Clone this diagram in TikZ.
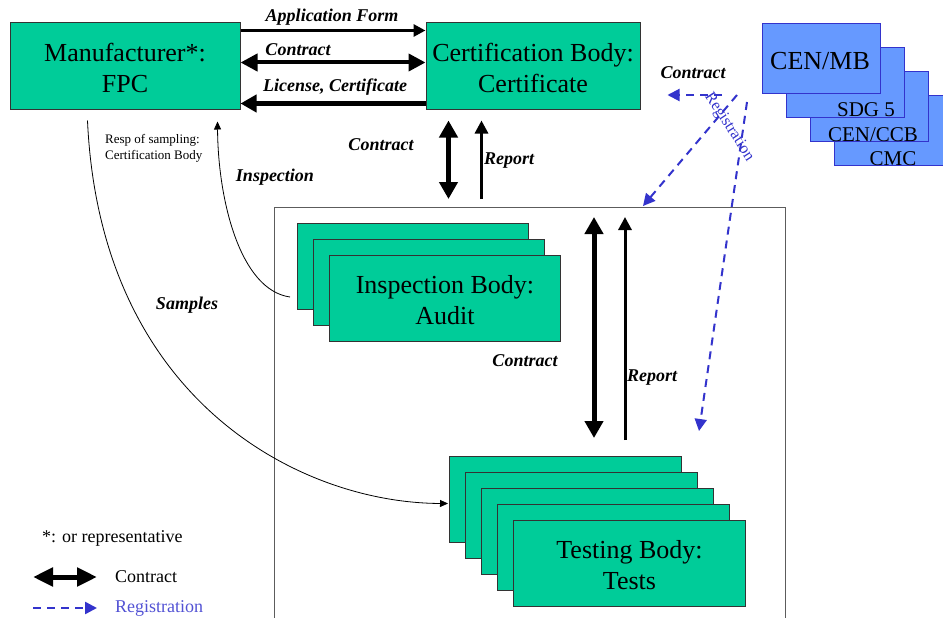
\documentclass[tikz,border=0pt]{standalone}
\usepackage{fontspec}
\setmainfont{Liberation Serif}
\usetikzlibrary{arrows.meta,calc}
\definecolor{tealfill}{HTML}{00CC99}
\definecolor{bluefill}{HTML}{6699FF}
\definecolor{blueline}{HTML}{3333CC}
\definecolor{boxline}{HTML}{333333}
\newcommand\toplinestrut{\rule{0pt}{22pt}}
\begin{document}
\begin{tikzpicture}[x=1pt,y=-1pt,
  gbox/.style={draw=boxline, line width=1pt, fill=tealfill, inner sep=0pt, align=center,
    font=\fontsize{26}{31}\selectfont},
  stackbox/.style={gbox, minimum width=231, minimum height=86, anchor=north west},
  bbox/.style={draw=blueline, line width=1pt, fill=bluefill, minimum width=118,
    minimum height=70, inner sep=0pt, anchor=north west},
  btext/.style={inner sep=0pt, anchor=base, font=\fontsize{21}{24}\selectfont},
  lbl/.style={inner sep=0pt, font=\fontsize{18}{20}\selectfont\bfseries\itshape},
  thickdbl/.style={line width=5pt, {Triangle[length=17pt,width=18pt]}-{Triangle[length=17pt,width=18pt]}},
  thinar/.style={line width=3pt, -{Triangle[length=13pt,width=13pt]}},
  regar/.style={draw=blueline, line width=2pt, dash pattern=on 8pt off 6pt,
    -{Triangle[length=12pt,width=12pt]}},
  curvear/.style={line width=0.8pt, -{Triangle[length=8pt,width=7pt]}},
  legtext/.style={inner sep=0pt, anchor=west, font=\fontsize{18}{20}\selectfont}
]
\useasboundingbox (0,0) rectangle (943,618);

% frame
\node[draw=boxline!80, line width=1pt, minimum width=511, minimum height=430,
  anchor=north west, inner sep=0pt] (frame) at (274,207) {};

% main boxes
\node[gbox, minimum width=230, minimum height=86] (mfr) at (125,66) {\toplinestrut Manufacturer*:\\FPC};
\node[gbox, minimum width=214, minimum height=86] (cert) at (533,66) {\toplinestrut Certification Body:\\Certificate};

% blue stack
\node[bbox] (cmc) at (834,95) {};
\node[bbox] (ccb) at (810,71) {};
\node[bbox] (sdg) at (786,47) {};
\node[bbox] (mb) at (762,23) {};
\node[btext, font=\fontsize{26}{30}\selectfont] (mbt) at (820,70) {CEN/MB};
\node[btext] (sdgt) at (866,117) {SDG 5};
\node[btext] (ccbt) at (873,141) {CEN/CCB};
\node[btext] (cmct) at (893,165) {CMC};

% inspection stack
\node[stackbox] (ib1) at (297,223) {};
\node[stackbox] (ib2) at (313,239) {};
\node[stackbox] (ib3) at (329,255) {\toplinestrut Inspection Body:\\Audit};

% testing stack
\node[stackbox, minimum width=232] (tb1) at (449,456) {};
\node[stackbox, minimum width=232] (tb2) at (465,472) {};
\node[stackbox, minimum width=232] (tb3) at (481,488) {};
\node[stackbox, minimum width=232] (tb4) at (497,504) {};
\node[stackbox, minimum width=232] (tb5) at (513,520) {\toplinestrut Testing Body:\\Tests};

% arrows between manufacturer and certification body
\draw[line width=3pt, -{Triangle[length=12pt,width=12pt]}]
  ($(mfr.north east)+(0,8)$) -- ($(cert.north west)+(0,8)$);
\draw[line width=4pt, {Triangle[length=17pt,width=17pt]}-{Triangle[length=17pt,width=17pt]}]
  ($(mfr.north east)+(0,40)$) -- ($(cert.north west)+(0,40)$);
\draw[line width=5pt, -{Triangle[length=16pt,width=17pt]}]
  ($(cert.south west)+(0,-6)$) -- ($(mfr.south east)+(0,-6)$);
\node[lbl] (lapp) at (332,17) {Application Form};
\node[lbl] (lcon1) at (298,50) {Contract};
\node[lbl] (llic) at (335,87) {License, Certificate};

% certification body <-> frame
\draw[thickdbl] ($(cert.south west)+(23,11)$) -- ($(cert.south west |- frame.north)+(23,-8)$);
\draw[thinar] ($(cert.south west |- frame.north)+(56,-8)$) -- ($(cert.south west)+(56,11)$);
\node[lbl] (lcon2) at (381,145) {Contract};
\node[lbl] (lrep1) at (509,161) {Report};

% inside frame
\draw[thickdbl] ($(frame.north west)+(320,10)$) -- ($(tb1.north west)+(145,-18)$);
\draw[thinar] ($(tb1.north west)+(176,-16)$) -- ($(frame.north west)+(351,10)$);
\node[lbl] (lcon3) at (525,361) {Contract};
\node[lbl] (lrep2) at (652,378) {Report};

% registration arrows
\coordinate (r0) at (722,95);
\coordinate (r1) at (737,95);
\coordinate (r2) at (747,102);
\draw[regar] (r0) -- ($(cert.east)+(27,29)$);
\draw[regar] (r1) -- ($(frame.north west)+(369,-1)$);
\draw[regar] (r2) -- ($(frame.north east)+(-87,224)$);
\node[lbl] (lcon4) at (693,73) {Contract};
\node[inner sep=0pt, text=blueline, rotate=-57, font=\fontsize{16}{18}\selectfont] (lreg) at (729,127) {Registration};

% curves
\draw[curvear] ($(mfr.south west)+(78,11)$) .. controls (100,400) and (300,503) .. ($(tb1.west)+(-1,4)$);
\draw[curvear] ($(ib1.south west)+(-7,-13)$) .. controls (240,290) and (218,200) .. ($(mfr.south west)+(208,12)$);
\node[inner sep=0pt, anchor=west, align=left, font=\fontsize{13}{16}\selectfont] (resp) at (105,148) {Resp of sampling:\\Certification Body};
\node[lbl] (linsp) at (275,177) {Inspection};
\node[lbl] (lsamp) at (187,305) {Samples};

% legend
\node[legtext] (lstar) at (42,538) {*: or representative};
\node[legtext] (lcontract) at (115,577) {Contract};
\node[legtext, text=blueline!85!white] (lregl) at (115,608) {Registration};
\coordinate (la) at (33,577);
\coordinate (lb) at (33,608);
\draw[thickdbl, {Triangle[length=20pt,width=18pt]}-{Triangle[length=20pt,width=18pt]}] (la) -- ($(lcontract.west)+(-18,0)$);
\draw[regar, line width=2.5pt] (lb) -- ($(lregl.west)+(-18,0)$);
\end{tikzpicture}
\end{document}
